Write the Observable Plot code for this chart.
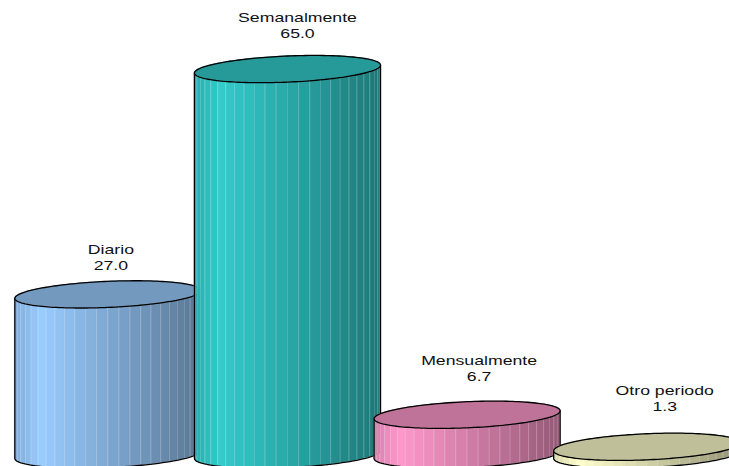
<!DOCTYPE html>
<html>
<head>
<meta charset="utf-8">
<script src="https://cdn.jsdelivr.net/npm/d3@7"></script>
<script src="https://cdn.jsdelivr.net/npm/@observablehq/plot@0.6"></script>
<style>html,body{margin:0;padding:0;background:#fff;overflow:hidden}svg{display:block}</style>
</head>
<body>
<div id="chart"></div>
<script>
const categories = ["Diario", "Semanalmente", "Mensualmente", "Otro periodo"];
const values = [27.0, 65.0, 6.7, 1.3];
const baseColors = ["#99ccff", "#33cccc", "#ff99cc", "#ffffcc"];
const labelDx = [3, 10, 12, 18];
const labelDy = [-11, -18, -20.5, -23];

// Cylinder geometry, in scale units
const halfWidth = 0.518, depth = 2.2, tilt = 0.67, facets = 26;
const topShade = 0.75;
const textStretch = 1.3;

const shade = (color, k) => {
  const c = d3.rgb(color);
  return d3.rgb(c.r * k, c.g * k, c.b * k).formatHex();
};
// left edge dim, brightest near the left third, falling toward the right
const facetShade = f => f < 0.14 ? 0.84 + (f / 0.14) * 0.16 : 1 - ((f - 0.14) / 0.86) * 0.42;

const px = (i, th) => i + halfWidth * Math.cos(th);
const rim = (v, th) => v - depth * Math.sin(th) + tilt * Math.cos(th);
const rimBack = (v, th) => v + depth * Math.sin(th) + tilt * Math.cos(th);
const thetas = n => d3.range(n + 1).map(k => Math.PI - (k / n) * Math.PI);

const marks = [];
categories.forEach((name, i) => {
  const v = values[i], col = baseColors[i];
  // body facets
  const strips = [], seams = [];
  d3.range(facets).forEach(k => {
    const a = Math.PI - (k / facets) * Math.PI, b = Math.PI - ((k + 1) / facets) * Math.PI;
    const f = ((px(0, a) + px(0, b)) / 2 + halfWidth) / (2 * halfWidth);
    const fill = shade(col, facetShade(f));
    for (const th of [a, b]) strips.push({k, x: px(i, th), y1: rim(0, th), y2: rim(v, th), fill});
    if (k > 0) {
      seams.push({k, x: px(i, a), y: rim(0, a)}, {k, x: px(i, a), y: rim(v, a)});
    }
  });
  marks.push(Plot.areaY(strips, {x: "x", y1: "y1", y2: "y2", z: "k", fill: "fill", stroke: "fill", strokeWidth: 0.3, clip: true}));
  marks.push(Plot.line(seams, {x: "x", y: "y", z: "k", stroke: "#fff", strokeWidth: 0.6, strokeOpacity: 0.28, clip: true}));
  // outline of body: left side, front bottom arc, right side
  const outline = [
    {x: px(i, Math.PI), y: rim(v, Math.PI)},
    ...thetas(60).map(th => ({x: px(i, th), y: rim(0, th)})),
    {x: px(i, 0), y: rim(v, 0)}
  ];
  marks.push(Plot.line(outline, {x: "x", y: "y", stroke: "#000", strokeWidth: 1.3, clip: true}));
  // top face
  const cap = thetas(80).map(th => ({x: px(i, th), y1: rim(v, th), y2: rimBack(v, th)}));
  marks.push(Plot.areaY(cap, {x: "x", y1: "y1", y2: "y2", fill: shade(col, topShade), clip: true}));
  const capLine = [
    ...cap.map(d => ({x: d.x, y: d.y1})),
    ...cap.slice().reverse().map(d => ({x: d.x, y: d.y2}))
  ];
  marks.push(Plot.line(capLine, {x: "x", y: "y", stroke: "#000", strokeWidth: 1.3, clip: true}));
});
categories.forEach((name, i) => {
  marks.push(Plot.text([`${name}\n${values[i].toFixed(1)}`], {
    x: [i], y: [values[i] + depth], text: d => d, dx: labelDx[i], dy: labelDy[i],
    lineAnchor: "bottom", lineHeight: 1.17, fill: "#111", fontSize: 13.6,
    fontFamily: "Liberation Sans, Arial, sans-serif"
  }));
});

const chart = Plot.plot({
  width: 729, height: 466,
  marginTop: 0, marginRight: 0, marginBottom: 0, marginLeft: 0,
  x: {type: "linear", domain: [-0.598, 3.461], range: [0, 729], axis: null},
  y: {type: "linear", domain: [-2.024, 76.56], range: [466, 0], axis: null},
  color: {type: "identity"},
  style: {background: "#fff"},
  marks
});
// The reference's labels are drawn horizontally stretched
d3.select(chart).selectAll("text").each(function () {
  const t = this.getAttribute("transform") || "";
  this.setAttribute("transform", `${t} scale(${textStretch},1)`);
});
document.getElementById("chart").appendChild(chart);
</script>
</body>
</html>
